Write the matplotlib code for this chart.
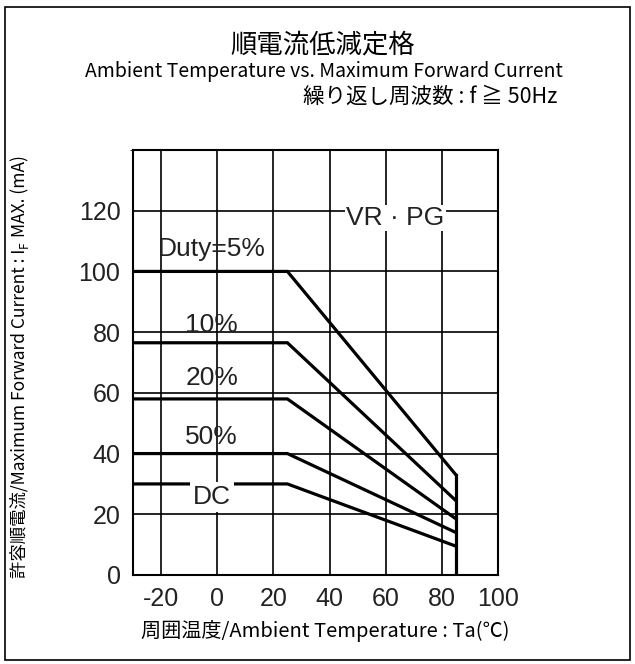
import matplotlib
matplotlib.use('Agg')
import matplotlib.pyplot as plt
from matplotlib.patches import Rectangle

# derating curves: flat up to 25 C, then linear down to 85 C
temps = [-30, 25, 85]
duty5 = [100, 100, 33]
duty10 = [76.5, 76.5, 24.5]
duty20 = [58, 58, 18.5]
duty50 = [40, 40, 14]
dcCurve = [30, 30, 9.5]
cutoffTemp = 85

curveLabels = ['Duty=5%', '10%', '20%', '50%', 'DC']
labelY = [107.5, 82.5, 65, 45.5, 25.7]
labelX = -2

xTicks = [-20, 0, 20, 40, 60, 80, 100]
yTicks = [0, 20, 40, 60, 80, 100, 120]

jpFont = ['Noto Sans CJK JP', 'DejaVu Sans']
numFont = ['Liberation Sans', 'DejaVu Sans']


def main():
    plt.rcParams['axes.unicode_minus'] = False
    W, H = 635, 664
    fig = plt.figure(figsize=(W / 100, H / 100), dpi=100)

    # outer frame
    fig.patches.append(Rectangle((5 / W, 4 / H), 625 / W, 653 / H, transform=fig.transFigure,
                                 fill=False, lw=1.2, ec='black'))

    ax = fig.add_axes([133 / W, 89 / H, 365 / W, 425 / H])

    for yy in [duty5, duty10, duty20, duty50, dcCurve]:
        ax.plot(temps, yy, color='black', lw=2.3, solid_joinstyle='miter', zorder=3)
    ax.plot([cutoffTemp, cutoffTemp], [0, duty5[-1]], color='black', lw=2.3, zorder=3)

    ax.set_xlim(-30, 100)
    ax.set_ylim(0, 140)
    ax.set_xticks(xTicks)
    ax.set_yticks(yTicks)
    ax.set_yticks([140], minor=True)
    ax.grid(True, which='both', color='black', lw=1.2)
    ax.tick_params(length=0, labelsize=18, pad=9)
    for lab in ax.get_xticklabels() + ax.get_yticklabels():
        lab.set_family(numFont)
        lab.set_color('#222222')
    for sp in ax.spines.values():
        sp.set_linewidth(1.5)

    for txt, yv in zip(curveLabels, labelY):
        bg = 'white' if txt == 'DC' else 'none'
        ax.text(labelX, yv, txt, ha='center', va='center', fontsize=19, family=numFont,
                color='#222222', zorder=4,
                bbox=dict(fc=bg, ec='none', pad=2))
    ax.text(63.5, 117.6, 'VR · PG', ha='center', va='center', fontsize=19, family=numFont,
            color='#222222', zorder=4, bbox=dict(fc='white', ec='none', pad=1))

    # titles
    fig.text(323 / W, 1 - 45 / H, '順電流低減定格', ha='center', va='center', fontsize=19, family=jpFont)
    fig.text(324 / W, 1 - 72 / H, 'Ambient Temperature vs. Maximum Forward Current', ha='center',
             va='center', fontsize=14, family=jpFont)
    fig.text(557 / W, 1 - 97 / H, '繰り返し周波数 : f ≧ 50Hz', ha='right', va='center', fontsize=15.5,
             family=jpFont)

    fig.text(325 / W, 1 - 631 / H, '周囲温度/Ambient Temperature : Ta(℃)', ha='center', va='center',
             fontsize=14.5, family=jpFont)

    # y label built from pieces for the subscript F
    renderer = fig.canvas.get_renderer()
    x0, y0 = 25, H - 578
    t1 = fig.text(x0 / W, y0 / H, '許容順電流/Maximum Forward Current : I', rotation=90,
                  rotation_mode='anchor', ha='left', va='baseline', fontsize=12.5, family=jpFont)
    bb = t1.get_window_extent(renderer)
    y1 = bb.y1 + 1
    t2 = fig.text((x0 + 3) / W, y1 / H, 'F', rotation=90, rotation_mode='anchor', ha='left',
                  va='baseline', fontsize=8.5, family=jpFont)
    bb2 = t2.get_window_extent(renderer)
    fig.text(x0 / W, (bb2.y1 + 4) / H, 'MAX. (mA)', rotation=90, rotation_mode='anchor',
             ha='left', va='baseline', fontsize=12.5, family=jpFont)

    plt.savefig('out.png', dpi=100)


if __name__ == "__main__":
    main()
